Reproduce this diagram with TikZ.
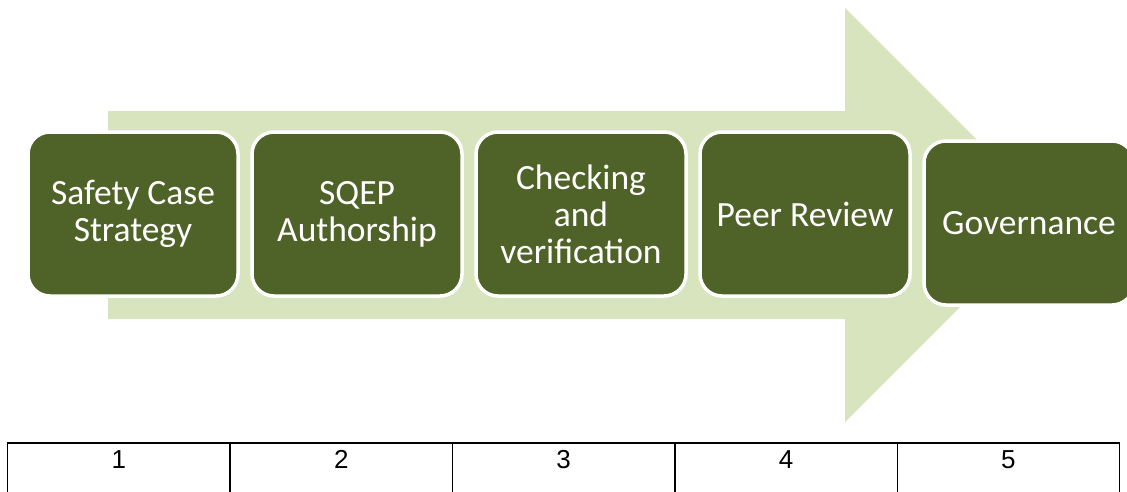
\documentclass[tikz,border=0pt]{standalone}
\usepackage{fontspec}
\setmainfont{Carlito}
\newfontfamily\numfont{Liberation Sans}
\definecolor{stepgreen}{HTML}{4F6228}
\definecolor{arrowgreen}{HTML}{D7E4BD}
\begin{document}
\begin{tikzpicture}[x=1pt,y=-1pt,
  stepbox/.style={draw=white, line width=3.5pt, fill=stepgreen, rounded corners=22pt,
    minimum width=210pt, minimum height=164pt, inner sep=0pt, text=white,
    align=center, font=\fontsize{35.5}{37}\selectfont},
  cell/.style={draw=black, line width=1.3pt, anchor=north west,
    minimum width=222.4pt, minimum height=60pt, inner sep=0pt},
  num/.style={font=\numfont\fontsize{26}{29}\selectfont, text=black, inner sep=0pt}]
\useasboundingbox (0,0) rectangle (1127,491);
\clip (0,0) rectangle (1127,491);
% background process arrow
\fill[arrowgreen] (108,111) -- (845,111) -- (845,8) -- (1052,215) -- (845,422)
  -- (845,319) -- (108,319) -- cycle;
% process steps
\node[stepbox] (s1) at (133,214) {Safety Case\\Strategy};
\node[stepbox] (s2) at (357,214) {SQEP\\Authorship};
\node[stepbox] (s3) at (581,214) {Checking\\and\\verification};
\node[stepbox] (s4) at (805,214) {Peer Review};
\node[stepbox] (s5) at (1029,223) {Governance};
% numbering row
\foreach \i in {1,...,5} {
  \node[cell] (c\i) at ({7+222.4*(\i-1)},443) {};
  \node[num] (n\i) at ([yshift=-16.5pt]c\i.north) {\i};
}
% heavier rule along the top of the row
\draw[line width=2.2pt] (c1.north west) -- (c5.north east);
\end{tikzpicture}
\end{document}
